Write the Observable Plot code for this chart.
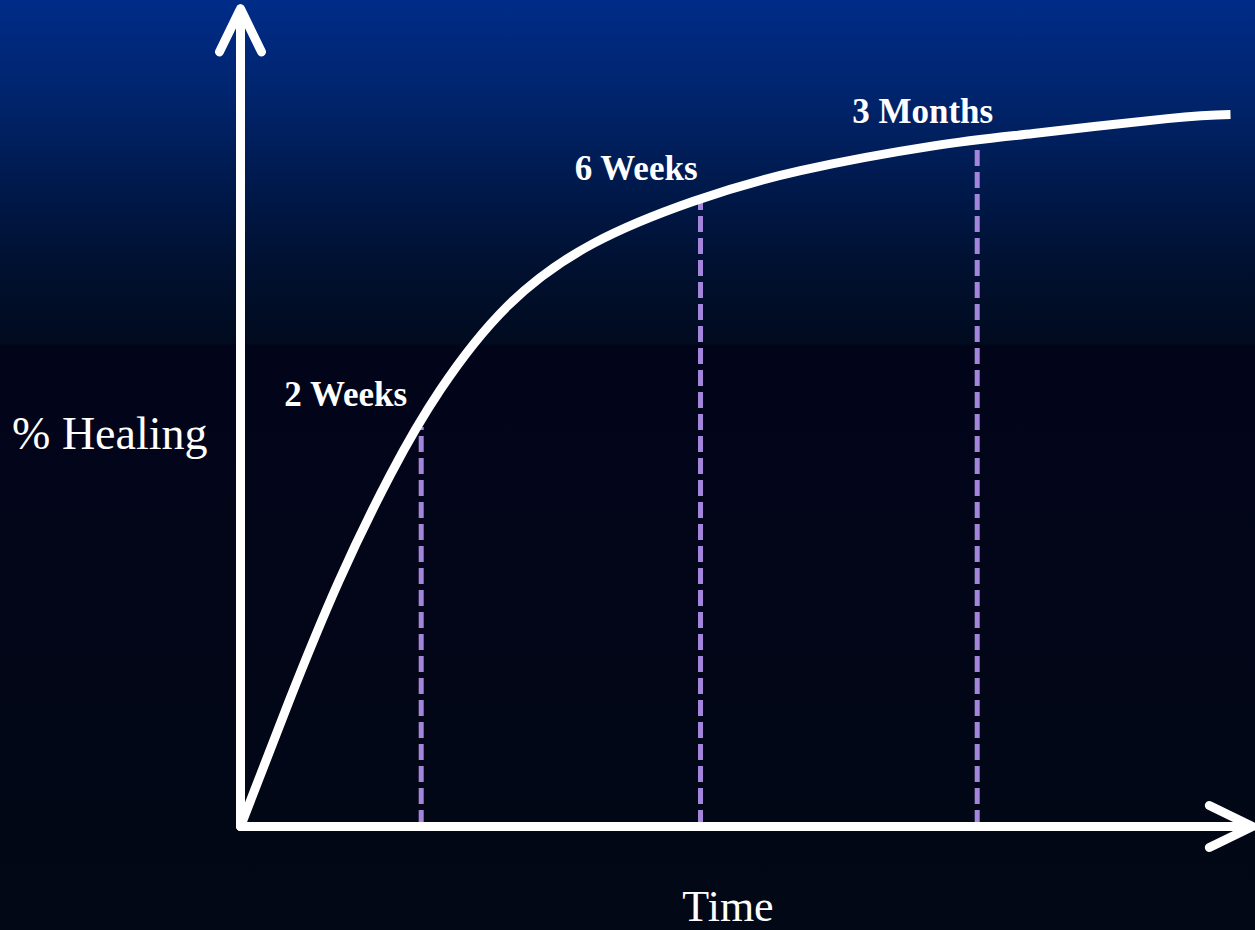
<!DOCTYPE html>
<html><head><meta charset="utf-8">
<script src="https://cdn.jsdelivr.net/npm/d3@7"></script>
<script src="https://cdn.jsdelivr.net/npm/@observablehq/plot@0.6"></script>
<style>
html,body{margin:0;padding:0;background:#020816;overflow:hidden;}
#chart svg{display:block;}
</style></head><body><div id="chart"></div>
<script>
// Healing curve (time in arbitrary units, healing in %)
const curveTime = [0, 4.8, 9.8, 15.0, 20.0, 26.7, 35.3, 45.3, 56.0, 69.3, 79.3, 92.7, 99.0];
const curveHealing = [0, 15.0, 29.6, 42.6, 52.9, 63.0, 70.6, 75.7, 79.4, 82.4, 83.9, 85.7, 86.2];

// Milestones
const milestoneLabels = ["2 Weeks", "6 Weeks", "3 Months"];
const milestoneTime = [18.07, 46.0, 73.67];
const milestoneHealing = [48.3, 76.3, 82.3];

// Axes
const axisTitleX = "Time";
const axisTitleY = "% Healing";
const axisEndTime = 101.2;
const axisEndHealing = 99.0;

const curve = curveTime.map((t, i) => ({time: t, healing: curveHealing[i]}));
const milestones = milestoneLabels.map((l, i) => ({label: l, time: milestoneTime[i], healing: milestoneHealing[i]}));
const axes = [
  {x1: 0, y1: 0, x2: 0, y2: axisEndHealing},
  {x1: 0, y1: 0, x2: axisEndTime, y2: 0}
];

// label placement offsets (style, not data)
const labelOffsets = [[-14, -22], [-3, -16], [16, -24]];

const serif = "'Liberation Serif', 'DejaVu Serif', serif";

const chart = Plot.plot({
  width: 1255,
  height: 930,
  marginLeft: 240,
  marginRight: 0,
  marginTop: 0,
  marginBottom: 104,
  x: {domain: [0, 101.5], axis: null},
  y: {domain: [0, 100], axis: null},
  style: {
    background: "linear-gradient(to bottom, #002c88 0px, #00256f 90px, #001a4e 180px, #00102f 270px, #010b1f 344px, #02051a 345px, #020816 930px)",
    color: "white"
  },
  marks: [
    Plot.ruleX(milestones, {x: "time", y1: 0, y2: "healing", stroke: "#a385dc", strokeWidth: 5, strokeDasharray: "16,6"}),
    Plot.line(curve, {x: "time", y: "healing", curve: "natural", stroke: "white", strokeWidth: 9, strokeLinecap: "butt"}),
    Plot.arrow(axes, {x1: "x1", y1: "y1", x2: "x2", y2: "y2", stroke: "white", strokeWidth: 9, headLength: 8, headAngle: 52, strokeLinecap: "round", strokeLinejoin: "round"}),
    ...milestones.map((m, i) => Plot.text([m], {
      x: "time", y: "healing", text: "label",
      textAnchor: "end", lineAnchor: "bottom",
      dx: labelOffsets[i][0], dy: labelOffsets[i][1],
      fill: "white", fontFamily: serif, fontWeight: "bold", fontSize: 35
    })),
    Plot.text([axisTitleY], {text: d => d, frameAnchor: "left", textAnchor: "end", lineAnchor: "bottom", dx: -33, dy: 35, fill: "white", fontFamily: serif, fontSize: 46}),
    Plot.text([axisTitleX], {text: d => d, frameAnchor: "bottom", lineAnchor: "bottom", dx: -20, dy: 94, fill: "white", fontFamily: serif, fontSize: 44})
  ]
});
document.getElementById("chart").appendChild(chart);
</script>
</body></html>
